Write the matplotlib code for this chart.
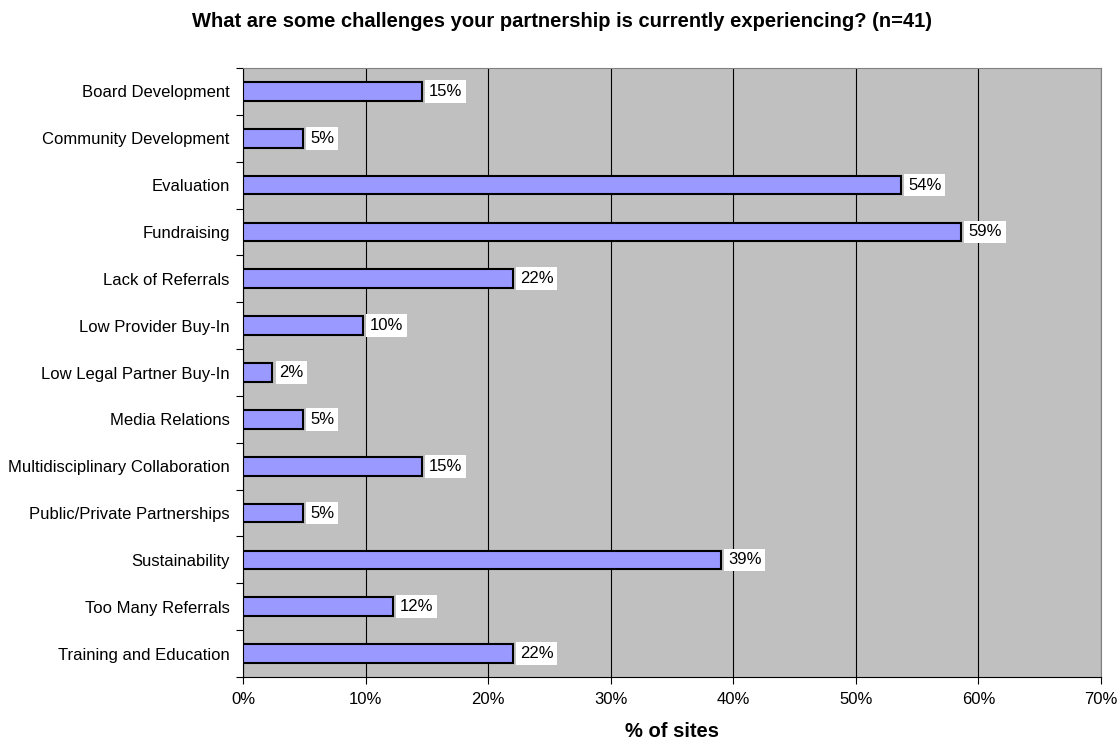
import matplotlib
matplotlib.use("Agg")
import matplotlib.pyplot as plt
from matplotlib.ticker import FuncFormatter, FixedLocator

plt.rcParams["font.family"] = ["Liberation Sans", "DejaVu Sans"]

challenges = [
    "Board Development",
    "Community Development",
    "Evaluation",
    "Fundraising",
    "Lack of Referrals",
    "Low Provider Buy-In",
    "Low Legal Partner Buy-In",
    "Media Relations",
    "Multidisciplinary Collaboration",
    "Public/Private Partnerships",
    "Sustainability",
    "Too Many Referrals",
    "Training and Education",
]
pct_sites = [14.6, 4.9, 53.7, 58.6, 22.0, 9.8, 2.4, 4.9, 14.6, 4.9, 39.0, 12.2, 22.0]

fig = plt.figure(figsize=(11.19, 7.4), dpi=100)
ax = fig.add_axes([0.2172, 0.0851, 0.7667, 0.8230])
ax.set_facecolor("#C0C0C0")

pos = list(range(len(challenges)))
ax.barh(pos, pct_sites, height=0.4, color="#9999FF", edgecolor="black",
        linewidth=1.5, zorder=3)

# value labels in white boxes just past the bar ends
for y, v in zip(pos, pct_sites):
    ax.annotate(f"{v:.0f}%", xy=(v, y), xytext=(5, 0), textcoords="offset points",
                va="center", ha="left", fontsize=12,
                bbox=dict(facecolor="white", edgecolor="none", pad=2.8), zorder=4)

ax.set_xlim(0, 70)
ax.set_ylim(len(challenges) - 0.5, -0.5)
ax.set_xticks(range(0, 71, 10))
ax.xaxis.set_major_formatter(FuncFormatter(lambda x, _: f"{x:.0f}%"))
ax.grid(axis="x", color="black", linewidth=0.8, zorder=1)

# category labels centred on bars, tick marks on the boundaries between them
ax.set_yticks(pos)
ax.set_yticklabels(challenges, fontsize=12)
ax.tick_params(axis="y", which="major", length=0, pad=9.5)
ax.yaxis.set_minor_locator(FixedLocator([p - 0.5 for p in pos] + [pos[-1] + 0.5]))
ax.tick_params(axis="y", which="minor", length=5, width=0.8)
ax.tick_params(axis="x", labelsize=12, length=5, width=0.8, pad=6)

for side in ["top", "right"]:
    ax.spines[side].set_color("#808080")
ax.spines["left"].set_linewidth(0.8)
ax.spines["bottom"].set_linewidth(0.8)

ax.set_xlabel("% of sites", fontsize=14.5, fontweight="bold")
ax.xaxis.label.set_va("center")
ax.xaxis.set_label_coords(0.5, -0.089)

fig.text(0.502, 0.9716,
         "What are some challenges your partnership is currently experiencing? (n=41)",
         fontsize=14.5, fontweight="bold", ha="center", va="center")

fig.savefig("out.png", dpi=100)
